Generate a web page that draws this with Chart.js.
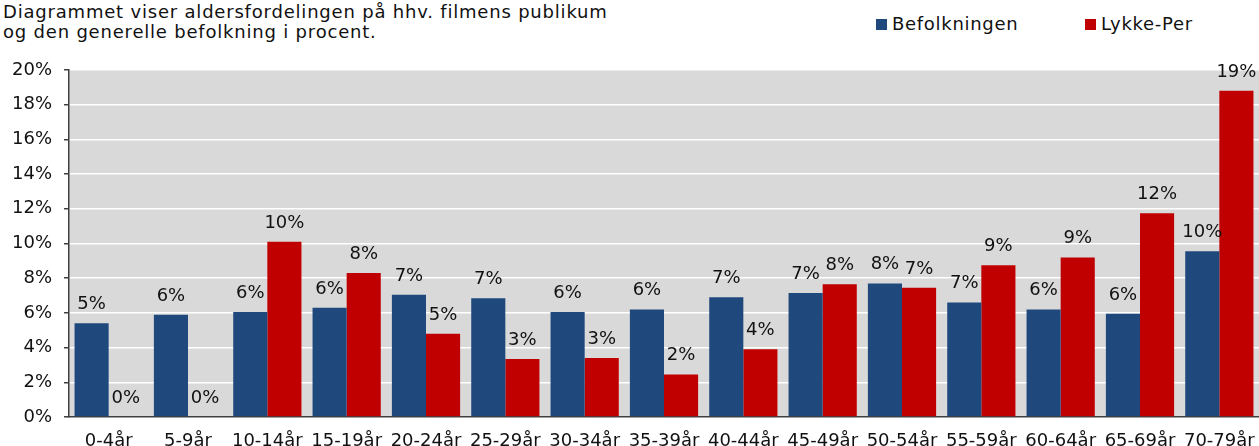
<!DOCTYPE html>
<html>
<head>
<meta charset="utf-8">
<script src="https://cdn.jsdelivr.net/npm/chart.js@4/dist/chart.umd.min.js"></script>
<style>
    html, body { margin: 0; padding: 0; background: #fff; }
    #wrap { position: relative; width: 1259px; height: 446px; font-family: "DejaVu Sans", Verdana, sans-serif; color: #000; }
    #title { position: absolute; left: 3px; top: 2px; font-size: 18px; line-height: 20px; letter-spacing: 0.8px; white-space: nowrap; color: #111; }
    #legend { position: absolute; top: 13px; left: 876px; font-size: 18px; letter-spacing: 0.7px; white-space: nowrap; color: #111; }
    #legend span.item { display: inline-block; position: absolute; top: 0; }
    #legend span.box { display: inline-block; width: 11px; height: 11px; margin-right: 5px; }
    canvas { position: absolute; left: 0; top: 0; }
</style>
</head>
<body>
<div id="wrap">
    <div id="title">Diagrammet viser aldersfordelingen på hhv. filmens publikum<br>og den generelle befolkning i procent.</div>
    <div id="legend"></div>
    <canvas id="chart" width="1259" height="446"></canvas>
</div>
<script>
const categories = ['0-4år', '5-9år', '10-14år', '15-19år', '20-24år', '25-29år', '30-34år', '35-39år',
    '40-44år', '45-49år', '50-54år', '55-59år', '60-64år', '65-69år', '70-79år'];
const befolkningen = [5.4, 5.9, 6.05, 6.3, 7.05, 6.85, 6.05, 6.2, 6.9, 7.15, 7.7, 6.6, 6.2, 5.95, 9.55];
const lykkePer = [0, 0, 10.1, 8.3, 4.8, 3.35, 3.4, 2.45, 3.9, 7.65, 7.45, 8.75, 9.2, 11.75, 18.8];
const seriesNames = ['Befolkningen', 'Lykke-Per'];
const seriesColors = ['#1F497D', '#C00000'];
const legendOffsets = [0, 209];

const FONT = '"DejaVu Sans", Verdana, sans-serif';

// html legend, same look as the original
const legendEl = document.getElementById('legend');
seriesNames.forEach((name, i) => {
    const item = document.createElement('span');
    item.className = 'item';
    item.style.left = legendOffsets[i] + 'px';
    item.innerHTML = `<span class="box" style="background:${seriesColors[i]}"></span>${name}`;
    legendEl.appendChild(item);
});

// grey plot background
const plotBackground = {
    id: 'plotBackground',
    beforeDraw(chart) {
        const { ctx, chartArea } = chart;
        ctx.save();
        ctx.fillStyle = '#D9D9D9';
        ctx.fillRect(chartArea.left, chartArea.top, chartArea.right - chartArea.left, chartArea.bottom - chartArea.top);
        ctx.restore();
    }
};

// value labels above each bar
const barValues = {
    id: 'barValues',
    afterDatasetsDraw(chart) {
        const ctx = chart.ctx;
        ctx.save();
        ctx.font = `18px ${FONT}`;
        ctx.fillStyle = '#111';
        ctx.textAlign = 'center';
        ctx.textBaseline = 'alphabetic';
        chart.data.datasets.forEach((ds, i) => {
            const meta = chart.getDatasetMeta(i);
            meta.data.forEach((bar, j) => {
                ctx.fillText(Math.round(ds.data[j]) + '%', bar.x, bar.y - 14);
            });
        });
        ctx.restore();
    }
};

new Chart(document.getElementById('chart'), {
    type: 'bar',
    data: {
        labels: categories,
        datasets: [
            { label: seriesNames[0], data: befolkningen, backgroundColor: seriesColors[0] },
            { label: seriesNames[1], data: lykkePer, backgroundColor: seriesColors[1] }
        ]
    },
    options: {
        responsive: false,
        animation: false,
        devicePixelRatio: 1,
        layout: { padding: { top: 70, right: 0, left: 0, bottom: 0 } },
        datasets: {
            bar: { categoryPercentage: 0.86, barPercentage: 1.0 }
        },
        plugins: {
            legend: { display: false },
            tooltip: { enabled: false }
        },
        scales: {
            x: {
                grid: { display: false, drawTicks: false },
                border: { color: '#404040', width: 1.5 },
                ticks: { color: '#111', font: { family: FONT, size: 18 }, padding: 14, maxRotation: 0, autoSkip: false },
                afterFit(scale) {
                    scale.height = 29;
                    // let the last label run off the edge like the original
                    scale.paddingLeft = 0;
                    scale.paddingRight = 0;
                }
            },
            y: {
                min: 0,
                max: 20,
                ticks: {
                    stepSize: 2,
                    color: '#111',
                    font: { family: FONT, size: 18 },
                    padding: 12,
                    callback: v => v + '%'
                },
                grid: { color: '#FFFFFF', lineWidth: 1.5, tickColor: '#404040', tickLength: 5 },
                border: { color: '#404040', width: 1.5 },
                afterFit(scale) { scale.width = 69; }
            }
        }
    },
    plugins: [plotBackground, barValues]
});
</script>
</body>
</html>
